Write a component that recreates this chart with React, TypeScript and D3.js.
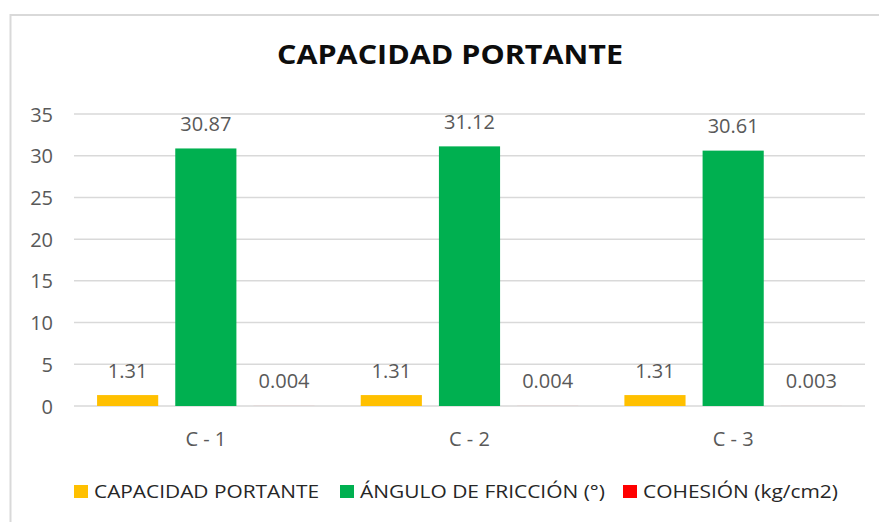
import React from "react";
import * as d3 from "d3";

const categories = ["C - 1", "C - 2", "C - 3"];
const seriesNames = ["CAPACIDAD PORTANTE", "ÁNGULO DE FRICCIÓN (°)", "COHESIÓN (kg/cm2)"];
const capacidad = [1.31, 1.31, 1.31];
const angulo = [30.87, 31.12, 30.61];
const cohesion = [0.004, 0.004, 0.003];
const labelText = [
  ["1.31", "1.31", "1.31"],
  ["30.87", "31.12", "30.61"],
  ["0.004", "0.004", "0.003"],
];
const yTicks = [0, 5, 10, 15, 20, 25, 30, 35];
const colors = ["#FFC000", "#00B050", "#FF0000"];

const font = "'Open Sans', 'Liberation Sans', sans-serif";

export default function App() {
  const width = 879,
    height = 522;
  const plot = { left: 74, right: 865, top: 114, bottom: 406 };

  const series = [capacidad, angulo, cohesion];

  const x = d3
    .scaleBand<string>()
    .domain(categories)
    .range([plot.left, plot.right])
    .padding(0);

  const xs = d3
    .scaleBand<number>()
    .domain([0, 1, 2])
    .range([0, x.bandwidth()])
    .paddingInner(0.218)
    .paddingOuter(0.295);

  const y = d3.scaleLinear().domain([0, 35]).range([plot.bottom, plot.top]);

  const legendX = [74, 340, 623];
  const legendW = [225, 245, 195];

  return (
    <svg
      width={width}
      height={height}
      style={{ position: "absolute", left: 0, top: 0, background: "#fff" }}
    >
      <rect x={0} y={0} width={width} height={height} fill="#fff" />
      <rect
        x={10.5}
        y={15}
        width={900}
        height={530}
        fill="#fff"
        stroke="#d9d9d9"
        strokeWidth={2}
      />

      <text
        x={450}
        y={53}
        textAnchor="middle"
        dominantBaseline="central"
        fontFamily={font}
        fontWeight="bold"
        fontSize={27}
        fill="#0d0d0d"
        textLength={346}
        lengthAdjust="spacingAndGlyphs"
      >
        CAPACIDAD PORTANTE
      </text>

      {yTicks.map((t) => (
        <g key={t}>
          <line
            x1={plot.left}
            x2={plot.right}
            y1={y(t)}
            y2={y(t)}
            stroke="#d9d9d9"
            strokeWidth={1.5}
          />
          <text
            x={53}
            y={y(t)}
            textAnchor="end"
            dominantBaseline="central"
            fontFamily={font}
            fontSize={20}
            fill="#595959"
          >
            {t}
          </text>
        </g>
      ))}

      {categories.map((c, i) => (
        <g key={c} transform={`translate(${x(c)},0)`}>
          {series.map((s, k) => (
            <g key={k}>
              <rect
                x={xs(k)}
                y={y(s[i])}
                width={xs.bandwidth()}
                height={y(0) - y(s[i])}
                fill={colors[k]}
              />
              <text
                x={(xs(k) as number) + xs.bandwidth() / 2}
                y={y(s[i]) - 25}
                textAnchor="middle"
                dominantBaseline="central"
                fontFamily={font}
                fontSize={20}
                fill="#595959"
              >
                {labelText[k][i]}
              </text>
            </g>
          ))}
          <text
            x={x.bandwidth() / 2}
            y={438}
            textAnchor="middle"
            dominantBaseline="central"
            fontFamily={font}
            fontSize={20}
            fill="#595959"
          >
            {c}
          </text>
        </g>
      ))}

      {seriesNames.map((n, k) => (
        <g key={n}>
          <rect x={legendX[k]} y={485} width={14} height={13} fill={colors[k]} />
          <text
            x={legendX[k] + 20}
            y={491}
            dominantBaseline="central"
            fontFamily={font}
            fontSize={19}
            fill="#262626"
            textLength={legendW[k]}
            lengthAdjust="spacingAndGlyphs"
          >
            {n}
          </text>
        </g>
      ))}
    </svg>
  );
}
